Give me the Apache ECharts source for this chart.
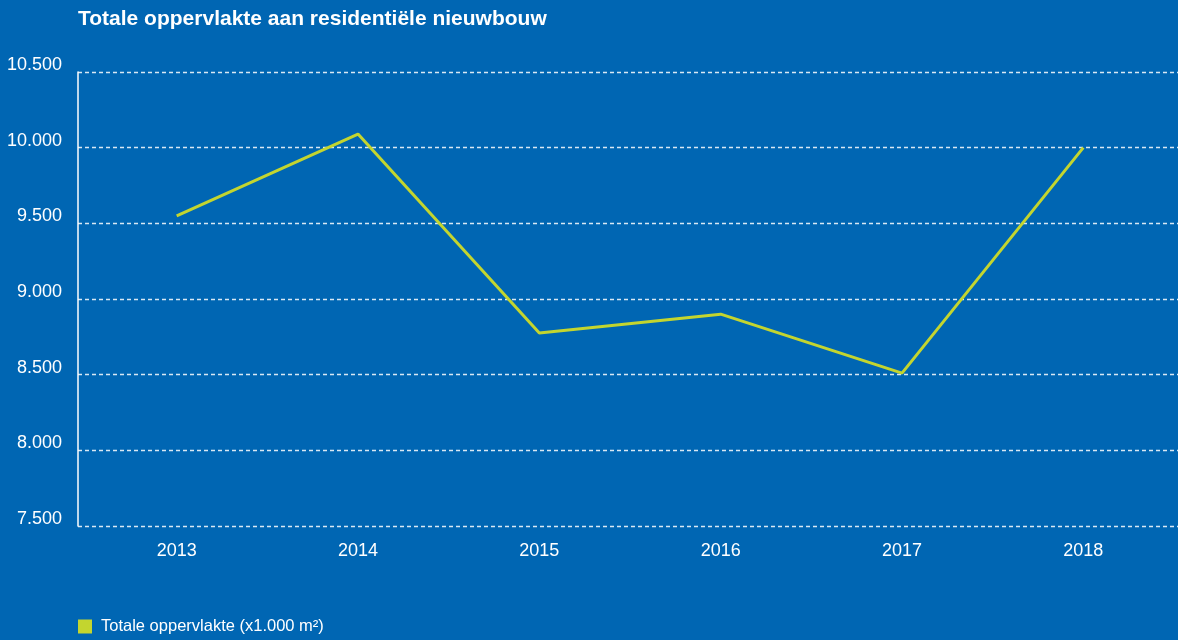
<!DOCTYPE html>
<html>
<head>
<meta charset="utf-8">
<script src="https://cdn.jsdelivr.net/npm/echarts@6/dist/echarts.min.js"></script>
<style>
  html, body { margin: 0; padding: 0; background: #0066b3; }
  #chart { width: 1178px; height: 640px; }
</style>
</head>
<body>
<div id="chart"></div>
<script>
// Totale oppervlakte aan residentiële nieuwbouw, x1.000 m²
const years = ['2013', '2014', '2015', '2016', '2017', '2018'];
const surface = [9550, 10090, 8775, 8900, 8510, 10000];
const seriesName = 'Totale oppervlakte (x1.000 m²)';
const titleText = 'Totale oppervlakte aan residentiële nieuwbouw';

const yMin = 7500, yMax = 10500, yStep = 500;

const FONT = '"Liberation Sans", Arial, sans-serif';
const WHITE = '#ffffff';
const LIME = '#c3d52f';

// Dutch thousands separator
const fmt = v => String(Math.round(v)).replace(/\B(?=(\d{3})+(?!\d))/g, '.');

const chart = echarts.init(document.getElementById('chart'), null, { renderer: 'canvas' });

chart.setOption({
  backgroundColor: '#0066b3',
  animation: false,
  textStyle: { fontFamily: FONT },
  title: {
    text: titleText,
    left: 73,
    top: 4,
    textStyle: { color: WHITE, fontFamily: FONT, fontWeight: 'bold', fontSize: 21 }
  },
  legend: {
    left: 78,
    top: 618,
    icon: 'rect',
    itemWidth: 14,
    itemHeight: 14,
    padding: 0,
    textStyle: { color: WHITE, fontFamily: FONT, fontSize: 16.5, padding: [0, 0, 0, 4] },
    data: [seriesName]
  },
  grid: [
    // frame: y scale, gridlines and axis line
    { left: 78, right: 0, top: 72, bottom: 114, containLabel: false, outerBoundsMode: 'none' },
    // plotting area for the category axis
    { left: 86, right: 4, top: 72, bottom: 114, containLabel: false, outerBoundsMode: 'none' }
  ],
  xAxis: [
    { type: 'category', gridIndex: 0, data: years, show: false },
    {
      type: 'category', gridIndex: 1, data: years, boundaryGap: true,
      axisLine: { show: false }, axisTick: { show: false }, splitLine: { show: false },
      axisLabel: { color: WHITE, fontFamily: FONT, fontSize: 18, margin: 16 }
    }
  ],
  yAxis: [
    {
      type: 'value', gridIndex: 0, min: yMin, max: yMax, interval: yStep,
      axisLine: { show: true, lineStyle: { color: WHITE, width: 1.5 } },
      axisTick: { show: false },
      axisLabel: {
        color: WHITE, fontFamily: FONT, fontSize: 18, margin: 16,
        verticalAlign: 'bottom', lineHeight: 14, formatter: fmt
      },
      splitLine: { show: true, lineStyle: { color: 'rgba(255,255,255,0.85)', width: 1.3, type: [4, 3] } }
    },
    { type: 'value', gridIndex: 1, min: yMin, max: yMax, interval: yStep, show: false, splitLine: { show: false } }
  ],
  series: [
    {
      name: seriesName,
      type: 'line',
      xAxisIndex: 1,
      yAxisIndex: 1,
      data: surface,
      symbol: 'none',
      color: LIME,
      lineStyle: { color: LIME, width: 3 }
    }
  ]
});
</script>
</body>
</html>
